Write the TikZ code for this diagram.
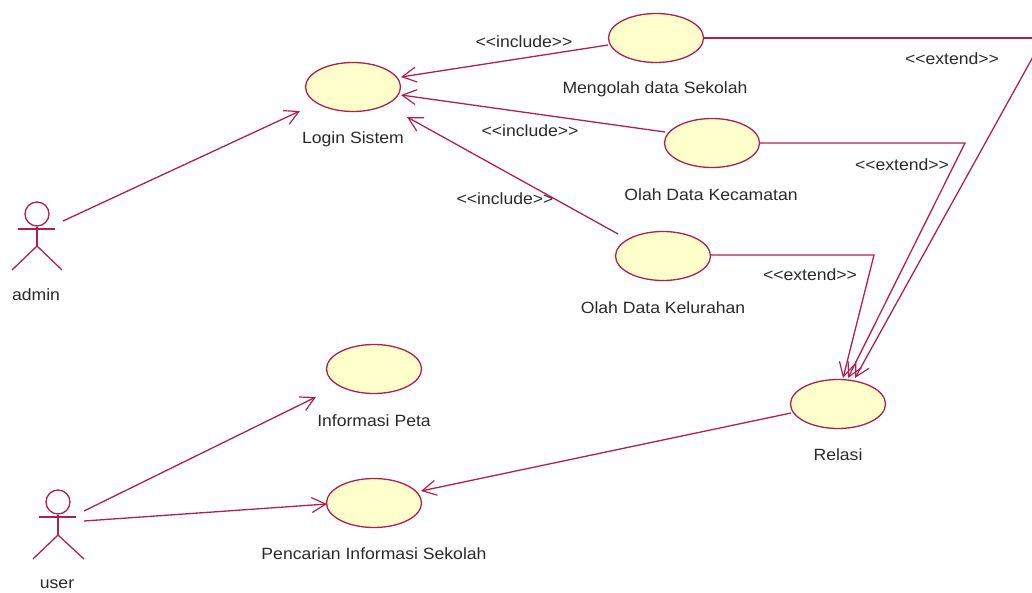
\documentclass[tikz,border=0pt]{standalone}
\usepackage{fontspec}
\setmainfont[FakeStretch=1.08]{Liberation Sans}
\usetikzlibrary{arrows.meta,shapes.geometric}
\definecolor{umlline}{HTML}{B0204F}
\definecolor{umlfill}{HTML}{FFFFCC}
\definecolor{umltext}{HTML}{2A2A2A}
\tikzset{
  usecase/.style={ellipse,draw=umlline,fill=umlfill,line width=1.3pt,minimum width=95pt,minimum height=49pt,inner sep=0pt},
  lbl/.style={text=umltext,font=\fontsize{16.3}{18}\selectfont,inner sep=0pt,yshift=-0.8pt},
  link/.style={draw=umlline,line width=1.3pt},
  arrowlink/.style={link,-{Straight Barb[length=14pt,width=15pt,line width=1.2pt]}},
  actorline/.style={draw=umlline,line width=1.3pt}
}
\begin{document}
\begin{tikzpicture}[x=1pt,y=-1pt]
\useasboundingbox (0,0) rectangle (1032,593);
\clip (0,0) rectangle (1032,593);
% use cases
\node[usecase] (login) at (353,87) {};
\node[usecase] (mengolah) at (656,38) {};
\node[usecase] (kecamatan) at (712,143) {};
\node[usecase] (kelurahan) at (663,256) {};
\node[usecase] (peta) at (374,369) {};
\node[usecase] (pencarian) at (374,503) {};
\node[usecase] (relasi) at (838,404) {};
% use case labels
\node[lbl] (tlogin) at (353,138) {Login Sistem};
\node[lbl] (tmengolah) at (655,88) {Mengolah data Sekolah};
\node[lbl] (tkecamatan) at (711,194) {Olah Data Kecamatan};
\node[lbl] (tkelurahan) at (663,307) {Olah Data Kelurahan};
\node[lbl] (tpeta) at (374,420) {Informasi Peta};
\node[lbl] (tpencarian) at (374,553) {Pencarian Informasi Sekolah};
\node[lbl] (trelasi) at (838,454) {Relasi};
% connector labels
\node[lbl] (i1) at (524,41) {<{}<include>{}>};
\node[lbl] (i2) at (530,130) {<{}<include>{}>};
\node[lbl] (i3) at (505,198) {<{}<include>{}>};
\node[lbl] (e1) at (952,58) {<{}<extend>{}>};
\node[lbl] (e2) at (902,164) {<{}<extend>{}>};
\node[lbl] (e3) at (810,274) {<{}<extend>{}>};
% actors
\node[circle,draw=umlline,line width=1.3pt,minimum size=24pt,inner sep=0pt] (adminhead) at (37,214) {};
\node[lbl] (tadmin) at (36,294) {admin};
\coordinate (adminhip) at (37,246);
\draw[actorline] (18,229) -- (55,229);
\draw[actorline] (adminhead.south) -- (adminhip);
\draw[actorline] (12,270) -- (adminhip) -- (62,270);
\node[circle,draw=umlline,line width=1.3pt,minimum size=24pt,inner sep=0pt] (userhead) at (58,502) {};
\node[lbl] (tuser) at (57,583) {user};
\coordinate (userhip) at (58,535);
\draw[actorline] (39,517) -- (76,517);
\draw[actorline] (userhead.south) -- (userhip);
\draw[actorline] (33,559) -- (userhip) -- (84,559);
% free ends
\coordinate (a1) at (63,221);
\coordinate (a2) at (300,111);
\coordinate (u1) at (84,511);
\coordinate (u2) at (316,397);
\coordinate (u3) at (84,521);
\coordinate (u4) at (327,504);
\coordinate (r1) at (791,413);
\coordinate (r2) at (421,491);
\coordinate (l1) at (401,77);
\coordinate (l2) at (401,95);
\coordinate (l3) at (407,117);
\coordinate (m1) at (608,45);
\coordinate (k1) at (665,132);
\coordinate (c1) at (618,234);
\coordinate (m2) at (704,38);
\coordinate (m3) at (1034,38);
\coordinate (m4) at (1034,55);
\coordinate (m5) at (855,378);
\coordinate (k2) at (760,143);
\coordinate (k3) at (965,143);
\coordinate (k4) at (848,378);
\coordinate (c2) at (710,255);
\coordinate (c3) at (874,255);
\coordinate (c4) at (843,378);
% connectors
\draw[arrowlink] (a1) -- (a2);
\draw[arrowlink] (u1) -- (u2);
\draw[arrowlink] (u3) -- (u4);
\draw[arrowlink] (r1) -- (r2);
\draw[arrowlink] (m1) -- (l1);
\draw[arrowlink] (k1) -- (l2);
\draw[arrowlink] (c1) -- (l3);
\draw[link] (m2) -- (m3);
\draw[arrowlink] (m4) -- (m5);
\draw[arrowlink] (k2) -- (k3) -- (k4);
\draw[arrowlink] (c2) -- (c3) -- (c4);
\end{tikzpicture}
\end{document}
